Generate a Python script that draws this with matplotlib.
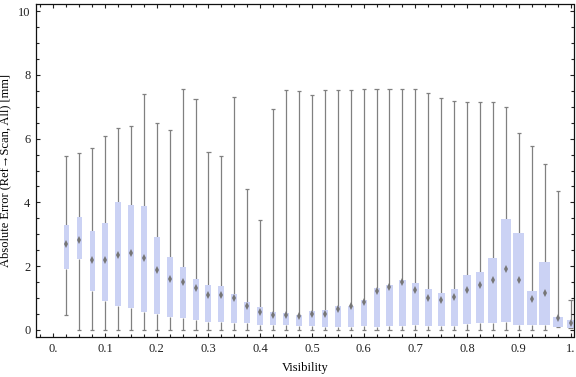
import numpy as np
import matplotlib
matplotlib.use("Agg")
import matplotlib.pyplot as plt
from matplotlib.ticker import MultipleLocator, FixedLocator

plt.rcParams["font.family"] = ["Liberation Serif", "DejaVu Serif"]

# visibility bins 0.025 .. 1.0
visibility = [round(0.025 * i, 3) for i in range(1, 41)]

whisker_low = [0.46, 0, 0, 0, 0, 0, 0, 0, 0, 0,
               0, 0, 0, 0, 0, 0, 0, 0, 0, 0,
               0, 0, 0, 0, 0, 0, 0, 0, 0, 0,
               0, 0, 0, 0, 0, 0, 0, 0, 0.10, 0.07]
q1 = [1.92, 2.23, 1.23, 0.92, 0.75, 0.70, 0.57, 0.50, 0.42, 0.39,
      0.32, 0.26, 0.26, 0.23, 0.23, 0.16, 0.16, 0.16, 0.14, 0.14,
      0.10, 0.10, 0.10, 0.14, 0.10, 0.14, 0.14, 0.16, 0.14, 0.14,
      0.14, 0.20, 0.23, 0.23, 0.26, 0.16, 0.16, 0.16, 0.10, 0.07]
median = [2.69, 2.83, 2.19, 2.18, 2.35, 2.40, 2.25, 1.88, 1.61, 1.49,
          1.31, 1.10, 1.10, 1.00, 0.74, 0.55, 0.47, 0.48, 0.44, 0.51,
          0.51, 0.67, 0.74, 0.88, 1.22, 1.36, 1.49, 1.25, 1.01, 0.95,
          1.04, 1.26, 1.41, 1.56, 1.91, 1.58, 0.98, 1.15, 0.38, 0.21]
q3 = [3.28, 3.53, 3.09, 3.34, 4.00, 3.91, 3.89, 2.92, 2.28, 1.97,
      1.60, 1.41, 1.38, 1.13, 0.88, 0.71, 0.55, 0.52, 0.47, 0.60,
      0.63, 0.75, 0.76, 0.95, 1.32, 1.41, 1.57, 1.47, 1.29, 1.16,
      1.29, 1.71, 1.82, 2.26, 3.47, 3.04, 1.22, 2.13, 0.41, 0.31]
whisker_high = [5.47, 5.56, 5.72, 6.09, 6.34, 6.41, 7.39, 6.48, 6.26, 7.57,
                7.25, 5.57, 5.47, 7.32, 4.41, 3.46, 6.94, 7.53, 7.50, 7.36,
                7.53, 7.53, 7.53, 7.57, 7.57, 7.57, 7.54, 7.57, 7.42, 7.26,
                7.19, 7.14, 7.14, 7.14, 6.98, 6.18, 5.76, 5.19, 4.35, 0.94]
# box widths as drawn (visibility units)
box_width = [0.0088, 0.0097, 0.0097, 0.0103, 0.0103, 0.0116, 0.0110, 0.0116, 0.0116, 0.0116,
             0.0116, 0.0116, 0.0116, 0.0116, 0.0116, 0.0116, 0.0116, 0.0116, 0.0116, 0.0116,
             0.0116, 0.0116, 0.0116, 0.0116, 0.0116, 0.0126, 0.0126, 0.0126, 0.0130, 0.0130,
             0.0135, 0.0141, 0.0165, 0.0174, 0.0193, 0.0207, 0.0199, 0.0199, 0.0193, 0.0126]

x_ticks = [0.0, 0.1, 0.2, 0.3, 0.4, 0.5, 0.6, 0.7, 0.8, 0.9, 1.0]
x_tick_labels = ["0.", "0.1", "0.2", "0.3", "0.4", "0.5", "0.6", "0.7", "0.8", "0.9", "1."]
y_ticks = [0, 2, 4, 6, 8, 10]

box_color = "#cbd2f4"
line_color = "#808080"

fig = plt.figure(figsize=(5.76, 3.77), dpi=100)
ax = fig.add_axes([36 / 576, 40 / 377, 537.5 / 576, 333 / 377])

x = np.array(visibility)
lo, a, m, b, hi = map(np.array, (whisker_low, q1, median, q3, whisker_high))

ax.bar(x, b - a, bottom=a, width=box_width, color=box_color, linewidth=0, zorder=2)
ax.vlines(x, lo, a, color=line_color, lw=0.9, zorder=1)
ax.vlines(x, b, hi, color=line_color, lw=0.9, zorder=1)
cap = 0.008
ax.hlines(lo, x - cap / 2, x + cap / 2, color=line_color, lw=0.9, zorder=1)
ax.hlines(hi, x - cap / 2, x + cap / 2, color=line_color, lw=0.9, zorder=1)
ax.plot(x, m, linestyle="none", marker="d", ms=3.6, color="#767676",
        markeredgewidth=0, zorder=3)

ax.set_xlim(-0.0335, 1.0058)
ax.set_ylim(-0.22, 10.22)

ax.xaxis.set_major_locator(FixedLocator(x_ticks))
ax.set_xticklabels(x_tick_labels)
ax.xaxis.set_minor_locator(MultipleLocator(0.025))
ax.yaxis.set_major_locator(FixedLocator(y_ticks))
ax.set_yticklabels([str(v) for v in y_ticks])
ax.yaxis.set_minor_locator(MultipleLocator(0.5))

ax.tick_params(which="both", direction="in", top=True, right=True,
               width=0.8, color="#222222", labelsize=9, labelcolor="#222222")
ax.tick_params(which="major", length=3.2)
ax.tick_params(which="minor", length=2.0)
ax.tick_params(axis="x", pad=4)
ax.tick_params(axis="y", pad=4)
for sp in ax.spines.values():
    sp.set_linewidth(0.9)
    sp.set_color("#111111")

ax.set_xlabel("Visibility", fontsize=9, labelpad=5)
ax.set_ylabel("Absolute Error (Ref\u2192Scan, All) [mm]", fontsize=9, labelpad=5)

fig.savefig("out.png", dpi=100)
